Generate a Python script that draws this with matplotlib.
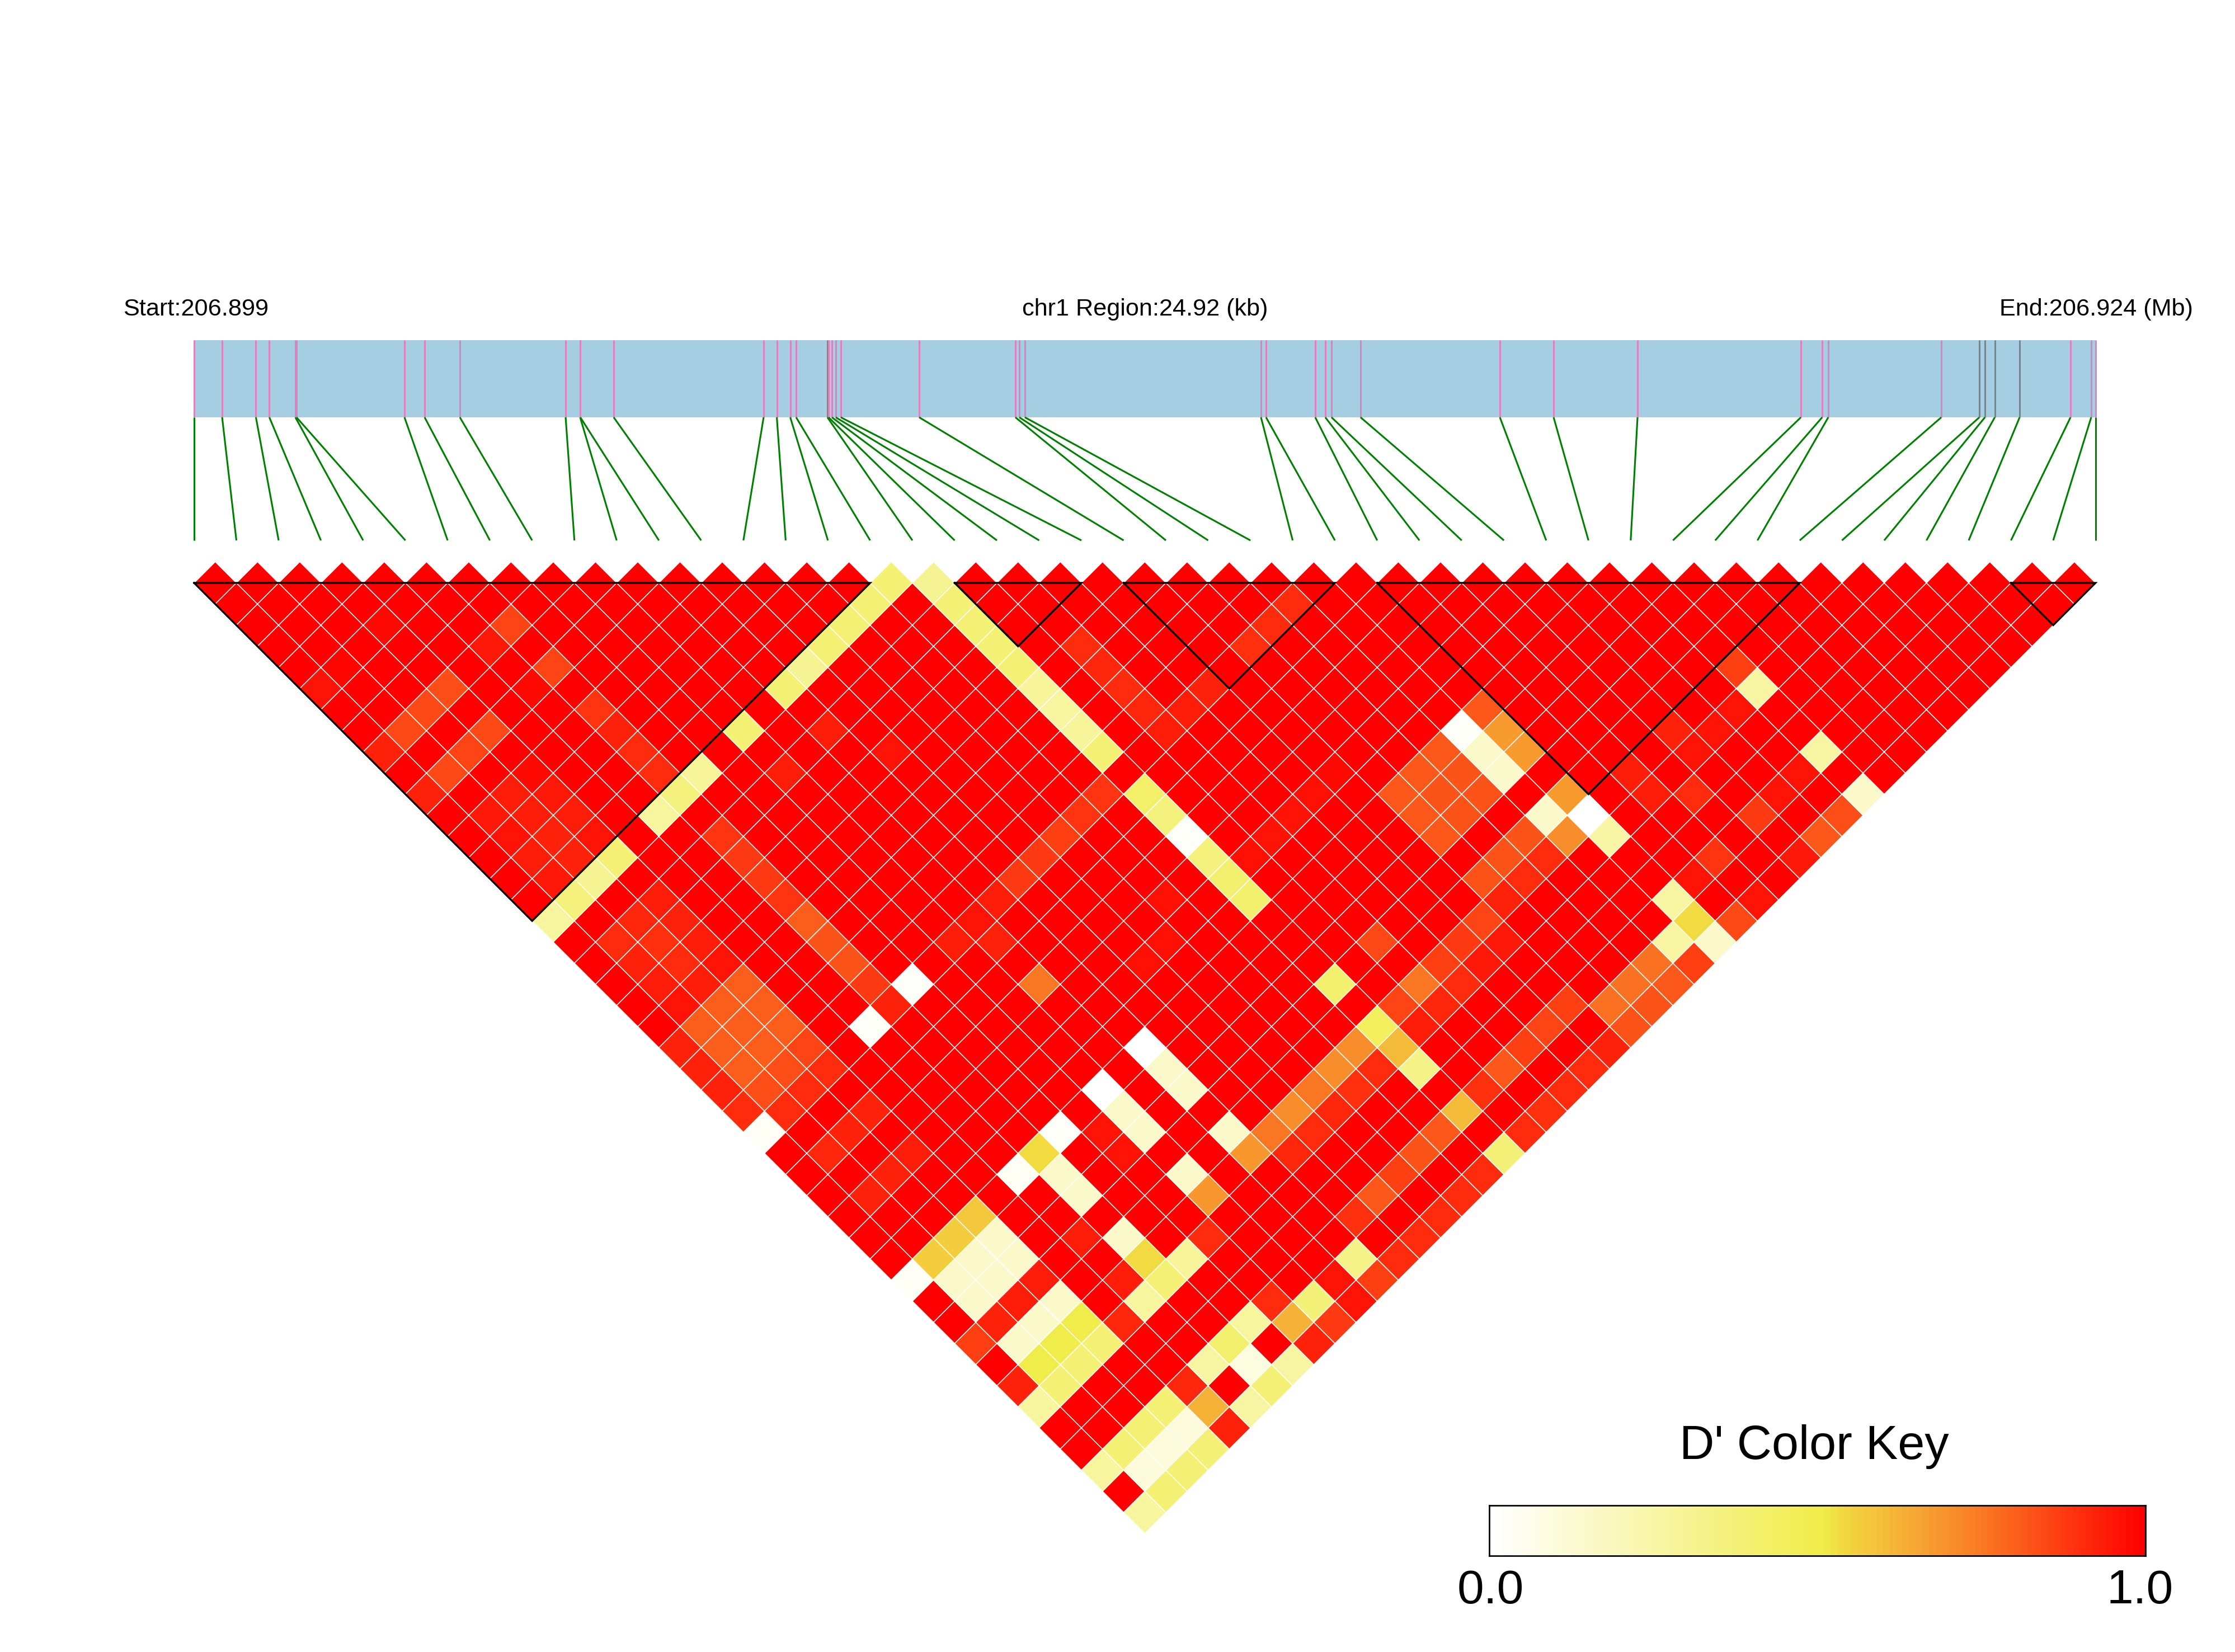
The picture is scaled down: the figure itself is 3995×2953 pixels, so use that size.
import matplotlib
matplotlib.use("Agg")
import matplotlib.pyplot as plt
import numpy as np
from matplotlib.collections import PolyCollection
from matplotlib.colors import LinearSegmentedColormap

# SNP positions in kb from region start
snp_kb = [0.000, 0.367, 0.810, 0.986, 1.327, 1.342, 2.757, 3.021, 3.483, 4.869,
          5.059, 5.062, 5.499, 7.464, 7.637, 7.813, 7.890, 8.300, 8.315, 8.359,
          8.410, 8.476, 9.503, 10.764, 10.816, 10.889, 13.983, 14.049, 14.694, 14.826,
          14.907, 15.288, 17.114, 17.818, 18.918, 21.059, 21.338, 21.418, 22.899, 23.398,
          23.471, 23.600, 23.926, 24.593, 24.864, 24.920]
region_kb = 24.92
grey_snps = [17, 39, 40, 41, 42]

# haplotype blocks, first and last SNP
block_start = [0, 18, 22, 28, 43]
block_end = [16, 21, 27, 38, 45]

# D' of the pairs below 1.0, every other pair is 1.0
pair_a = [16, 15, 14, 13, 12, 11, 9, 7, 6, 5, 3, 2, 1, 0,
          17, 17, 17, 17, 17, 17, 17, 17, 17, 17, 17, 17, 17, 17, 17, 17, 17, 17, 17, 17, 17,
          6, 5, 6, 5, 3, 2, 1, 0, 3, 2, 1, 0, 6, 6, 6, 6, 3, 2, 3, 1, 2, 3, 1, 2, 3, 1, 2, 1, 3, 1, 0,
          6, 6, 6, 6, 6, 6, 6, 6, 6,
          3, 2, 3, 1, 2, 3, 1, 2, 3, 1, 2, 3, 1, 2, 3, 1, 2, 3, 0, 1, 2, 3, 0, 1, 2, 3, 0, 1, 2, 0, 1,
          7, 5, 0,
          16, 15, 14, 13, 12, 11, 10, 9, 10, 10,
          19, 19, 19, 19, 19, 20, 21, 23, 24, 25,
          27, 26, 27, 26, 27, 26, 25, 24, 25, 23, 24, 25, 23, 24, 23,
          27, 26, 27, 26, 27, 25, 24, 25, 23, 24, 23, 22, 21, 22, 20, 21, 19, 20, 18, 19, 18,
          16, 16, 15, 14, 15, 13, 14, 12, 13, 12, 11, 11, 9, 9, 8,
          34, 34, 33, 32, 31, 31, 34, 33, 32, 31, 30, 29, 29, 29, 28,
          34, 33, 32, 31, 29, 28, 27, 27, 26, 27, 26, 25, 24, 25, 23, 24, 23, 22, 21, 20, 19, 18,
          16, 15, 14, 13, 12, 11, 10, 9, 8, 7, 6, 5, 4, 3, 2, 1, 0,
          22, 21, 20, 19, 18, 16, 15, 14, 13, 12, 8, 7, 6, 5, 4, 3, 2, 1, 0,
          11, 10, 9, 8, 6, 4, 3, 2, 1,
          11, 9, 7, 6, 5, 3, 2, 1, 0,
          11, 9, 8, 6, 3, 2, 1,
          11, 9, 8, 6, 3, 2, 1,
          3, 2, 1, 0, 5, 19,
          6, 3, 2, 1,
          6, 5, 3, 2, 1, 0,
          7, 6, 5, 4, 3, 2, 1, 0,
          3, 1, 2, 2, 1, 3,
          14, 13, 15, 19, 20, 21, 22, 18, 9, 11, 12]
pair_b = [17, 17, 17, 17, 17, 17, 17, 17, 17, 17, 17, 17, 17, 17,
          18, 19, 20, 21, 22, 23, 24, 25, 26, 28, 29, 30, 31, 32, 33, 37, 39, 40, 41, 43, 45,
          9, 9, 11, 11, 9, 9, 9, 9, 11, 11, 11, 11, 13, 14, 15, 16, 13, 13, 14, 13, 14, 15, 14, 15, 16, 15, 16, 16, 6, 6, 6,
          19, 20, 21, 22, 23, 24, 25, 26, 27,
          19, 19, 20, 19, 20, 21, 20, 21, 22, 21, 22, 23, 22, 23, 24, 23, 24, 25, 23, 24, 25, 26, 24, 25, 26, 27, 25, 26, 27, 26, 27,
          27, 27, 27,
          27, 27, 27, 27, 27, 27, 27, 27, 28, 30,
          23, 24, 25, 26, 27, 27, 27, 27, 27, 27,
          34, 34, 35, 35, 36, 36, 34, 34, 35, 34, 35, 36, 35, 36, 36,
          38, 38, 39, 39, 40, 38, 38, 39, 38, 39, 39, 39, 39, 40, 39, 40, 39, 40, 39, 40, 40,
          39, 40, 39, 39, 40, 39, 40, 39, 40, 40, 39, 38, 39, 38, 40,
          39, 40, 40, 40, 39, 40, 43, 43, 43, 43, 41, 40, 39, 43, 43,
          45, 45, 45, 45, 45, 45, 43, 44, 44, 45, 45, 44, 44, 45, 44, 45, 45, 45, 45, 45, 45, 45,
          45, 45, 45, 45, 45, 45, 45, 45, 45, 45, 45, 45, 45, 45, 45, 45, 45,
          43, 43, 43, 43, 43, 43, 43, 43, 43, 43, 43, 43, 43, 43, 43, 43, 43, 43, 43,
          44, 44, 44, 44, 44, 44, 44, 44, 44,
          34, 34, 34, 34, 34, 34, 34, 34, 34,
          35, 35, 35, 35, 35, 35, 35,
          36, 36, 36, 36, 36, 36, 36,
          37, 37, 37, 37, 37, 37,
          38, 38, 38, 38,
          39, 39, 39, 39, 39, 39,
          40, 40, 40, 40, 40, 40, 40, 40,
          29, 29, 29, 31, 31, 31,
          32, 32, 31, 32, 32, 32, 32, 32, 19, 19, 21]
pair_d = [0.38, 0.38, 0.38, 0.38, 0.30, 0.38, 0.38, 0.28, 0.36, 0.27, 0.38, 0.30, 0.36, 0.27,
          0.30, 0.38, 0.38, 0.38, 0.38, 0.28, 0.27, 0.28, 0.38, 0.42, 0.36, 0.02, 0.36, 0.40, 0.40, 0.40, 0.45, 0.60, 0.33, 0.60, 0.37,
          0.85, 0.94, 0.85, 0.97, 0.83, 0.84, 0.84, 0.92, 0.84, 0.85, 0.84, 0.92, 0.88, 0.92, 0.90, 0.90, 0.97, 0.93, 0.94, 0.94, 0.93, 0.93, 0.95, 0.92, 0.95, 0.93, 0.92, 0.94, 0.97, 0.98, 0.95,
          0.88, 0.87, 0.87, 0.88, 0.80, 0.82, 0.82, 0.87, 0.92,
          0.93, 0.91, 0.92, 0.90, 0.89, 0.93, 0.92, 0.90, 0.95, 0.93, 0.93, 0.80, 0.95, 0.80, 0.80, 0.80, 0.80, 0.80, 0.92, 0.80, 0.80, 0.85, 0.92, 0.80, 0.83, 0.90, 0.92, 0.83, 0.90, 0.90, 0.90,
          0.02, 0.02, 0.03,
          0.88, 0.88, 0.86, 0.87, 0.87, 0.93, 0.95, 0.93, 0.92, 0.75,
          0.90, 0.91, 0.90, 0.91, 0.93, 0.93, 0.92, 0.89, 0.90, 0.90,
          0.81, 0.02, 0.67, 0.15, 0.67, 0.15, 0.81, 0.81, 0.82, 0.81, 0.82, 0.82, 0.81, 0.82, 0.81,
          0.67, 0.15, 0.00, 0.70, 0.25, 0.82, 0.82, 0.90, 0.82, 0.90, 0.92, 0.85, 0.87, 0.94, 0.86, 0.94, 0.75, 0.90, 0.85, 0.91, 0.93,
          0.70, 0.90, 0.70, 0.75, 0.89, 0.70, 0.91, 0.75, 0.90, 0.91, 0.68, 0.15, 0.68, 0.15, 0.90,
          0.86, 0.26, 0.95, 0.95, 0.92, 0.95, 0.26, 0.95, 0.95, 0.87, 0.90, 0.93, 0.93, 0.88, 0.95,
          0.15, 0.83, 0.81, 0.94, 0.95, 0.84, 0.26, 0.53, 0.26, 0.15, 0.86, 0.76, 0.76, 0.81, 0.76, 0.82, 0.82, 0.92, 0.90, 0.90, 0.89, 0.90,
          0.90, 0.90, 0.90, 0.90, 0.90, 0.86, 0.95, 0.87, 0.92, 0.26, 0.38, 0.26, 0.92, 0.38, 0.38, 0.38, 0.27,
          0.86, 0.85, 0.86, 0.81, 0.89, 0.81, 0.82, 0.86, 0.81, 0.89, 0.90, 0.27, 0.40, 0.26, 0.91, 0.38, 0.38, 0.38, 0.27,
          0.33, 0.95, 0.37, 0.62, 0.09, 0.62, 0.10, 0.10, 0.10,
          0.00, 0.00, 0.02, 0.53, 0.03, 0.58, 0.56, 0.57, 0.03,
          0.15, 0.15, 0.95, 0.15, 0.15, 0.15, 0.15,
          0.15, 0.15, 0.95, 0.15, 0.15, 0.15, 0.15,
          0.93, 0.93, 0.92, 0.86, 0.93, 0.84,
          0.15, 0.15, 0.15, 0.15,
          0.53, 0.93, 0.50, 0.50, 0.50, 0.92,
          0.28, 0.38, 0.27, 0.91, 0.38, 0.38, 0.38, 0.27,
          0.92, 0.91, 0.92, 0.92, 0.92, 0.93,
          0.96, 0.96, 0.96, 0.95, 0.95, 0.96, 0.97, 0.96, 0.93, 0.93, 0.95]

start_label = "Start:206.899"
region_label = "chr1 Region:24.92 (kb)"
end_label = "End:206.924 (Mb)"
key_title = "D' Color Key"
key_ticks = ["0.0", "1.0"]

plt.rcParams['font.family'] = ['Liberation Sans', 'DejaVu Sans']

ld_cmap = LinearSegmentedColormap.from_list(
    "ld",
    [(0.0, "#FFFFFF"), (0.51, "#F0EC48"), (0.54, "#F2D840"), (0.66, "#F6A332"),
     (0.75, "#F97A24"), (0.85, "#FD4815"), (1.0, "#FF0000")],
    N=100,
)

W, H = 3995, 2953
fig = plt.figure(figsize=(W / 300 + 1e-6, H / 300 + 1e-6), dpi=300)
ax = fig.add_axes([0, 0, 1, 1])
ax.set_xlim(0, W)
ax.set_ylim(H, 0)
ax.axis("off")

left, right = 347, 3745.6
n = len(snp_kb)
step = (right - left) / (n - 1)
half = step / 2
band_top, band_bottom, link_bottom, heat_top = 608, 746, 966, 1042

# gene track
ax.fill_between([left, right], band_top, band_bottom, color="#A6CEE3", lw=0, zorder=1)
for k, pos in enumerate(snp_kb):
    x_top = left + pos / region_kb * (right - left)
    x_low = left + k * step
    col = "#808080" if k in grey_snps else "#E07FBE"
    ax.plot([x_top, x_top], [band_top, band_bottom], color=col, lw=0.7, zorder=2,
            solid_capstyle="butt")
    ax.plot([x_top, x_low], [band_bottom, link_bottom], color="#008000", lw=0.75, zorder=2,
            solid_capstyle="butt")

# heatmap, the upper triangle of the D' matrix turned by 45 degrees
dprime = np.ones((n, n))
for a, b, d in zip(pair_a, pair_b, pair_d):
    dprime[a, b] = d

cells = []
values = []
for a in range(n - 1):
    for b in range(a + 1, n):
        cx = left + (a + b) * half
        cy = heat_top + (b - a - 1) * half
        cells.append([(cx - half, cy), (cx, cy - half), (cx + half, cy), (cx, cy + half)])
        values.append(dprime[a, b])

heat = PolyCollection(cells, array=np.array(values), cmap=ld_cmap, clim=(0, 1),
                      edgecolors="white", linewidths=0.35, zorder=3)
ax.add_collection(heat)

# block outlines
for s, e in zip(block_start, block_end):
    xs = [left + s * step, left + e * step, left + (s + e) * half, left + s * step]
    ys = [heat_top, heat_top, heat_top + (e - s) * half, heat_top]
    ax.plot(xs, ys, color="black", lw=0.8, zorder=4, solid_joinstyle="miter")

ax.text(left + 3, 564, start_label, fontsize=10.4, ha="center", va="baseline")
ax.text((left + right) / 2, 564, region_label, fontsize=10.4, ha="center", va="baseline")
ax.text(right + 1, 564, end_label, fontsize=10.4, ha="center", va="baseline")

# colour key
key_x0, key_x1, key_y0, key_y1 = 2662, 3835, 2691, 2781
key_ax = fig.add_axes([key_x0 / W, 1 - key_y1 / H, (key_x1 - key_x0) / W, (key_y1 - key_y0) / H])
key_edges = np.linspace(0, 1, 101)
key_ax.pcolormesh(key_edges, [0, 1], ((key_edges[:-1] + key_edges[1:]) / 2).reshape(1, -1),
                  cmap=ld_cmap, vmin=0, vmax=1, antialiased=True, linewidth=0)
key_ax.set_xticks([])
key_ax.set_yticks([])
for spine in key_ax.spines.values():
    spine.set_linewidth(0.65)

ax.text(3243, 2608, key_title, fontsize=20.7, ha="center", va="baseline")
ax.text(2664, 2866, key_ticks[0], fontsize=20.6, ha="center", va="baseline")
ax.text(3825, 2866, key_ticks[1], fontsize=20.6, ha="center", va="baseline")

fig.savefig("out.png", dpi=300)
